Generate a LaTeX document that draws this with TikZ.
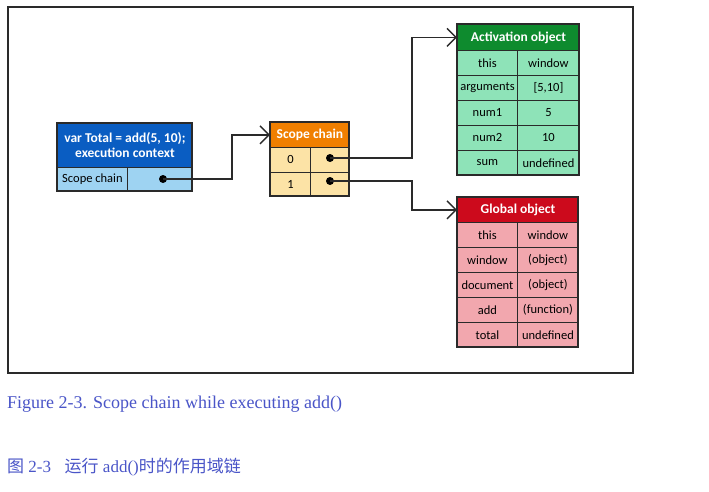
\documentclass[tikz,border=0pt]{standalone}
\usepackage{fontspec}
\setmainfont{Liberation Serif}
\newfontfamily\boxfont{Carlito}
\newfontfamily\cjk{Noto Sans CJK SC}
\usetikzlibrary{arrows.meta}
\definecolor{ecHead}{HTML}{0A5DC2}
\definecolor{ecRow}{HTML}{9ED3F2}
\definecolor{scHead}{HTML}{F07F00}
\definecolor{scRow}{HTML}{FCE3A6}
\definecolor{acHead}{HTML}{0E8B2E}
\definecolor{acRow}{HTML}{8EE3B8}
\definecolor{glHead}{HTML}{CC0A1C}
\definecolor{glRow}{HTML}{F2A7AE}
\definecolor{capBlue}{HTML}{4A55C8}
\definecolor{lineDark}{HTML}{2A2A2A}
\begin{document}
\begin{tikzpicture}[x=1pt,y=-1pt,
  cell/.style={draw=lineDark, line width=0.9pt, anchor=north west, inner sep=0pt,
    minimum height=25pt, font=\boxfont\fontsize{12.5}{13}\selectfont, text=black},
  headcell/.style={cell, font=\boxfont\bfseries\fontsize{13.5}{15}\selectfont, text=white},
  outline/.style={draw=lineDark, line width=1.7pt},
  dot/.style={circle, fill=black, inner sep=0pt, minimum size=8pt},
  arr/.style={draw=lineDark, line width=1.4pt, -{Straight Barb[length=9pt,width=18pt,line width=1.4pt]}},
  caption/.style={anchor=base west, inner sep=0pt, text=capBlue}]
\useasboundingbox (0,0) rectangle (709,492);
\fill[white] (0,0) rectangle (709,492);
% frame
\draw[draw=lineDark, line width=1.2pt] (8,7) rectangle (633,373);

% execution context
\node[headcell, fill=ecHead, minimum width=135pt, minimum height=44pt, align=center] (echead) at (57,123) {var Total = add(5, 10);\\execution context};
\node[cell, fill=ecRow, minimum width=70pt, minimum height=24pt] (ecl) at (57,167) {Scope chain};
\node[cell, fill=ecRow, minimum width=65pt, minimum height=24pt] (ecr) at (127,167) {};
\draw[outline] (57,123) rectangle (192,191);
\node[dot] (ecdot) at (163,179) {};

% scope chain
\node[headcell, fill=scHead, minimum width=79pt] (schead) at (270,122) {Scope chain};
\node[cell, fill=scRow, minimum width=40pt] (sc0l) at (270,147) {0};
\node[cell, fill=scRow, minimum width=39pt] (sc0r) at (310,147) {};
\node[cell, fill=scRow, minimum width=40pt, minimum height=24pt] (sc1l) at (270,172) {1};
\node[cell, fill=scRow, minimum width=39pt, minimum height=24pt] (sc1r) at (310,172) {};
\draw[outline] (270,122) rectangle (349,196);
\node[dot] (scdot0) at (330,158) {};
\node[dot] (scdot1) at (330,181) {};

% activation object
\node[headcell, fill=acHead, minimum width=122pt, minimum height=26pt] (achead) at (457,24) {Activation object};
\node[cell, fill=acRow, minimum width=60pt] (ac1l) at (457,50) {this};
\node[cell, fill=acRow, minimum width=62pt] (ac1r) at (517,50) {window};
\node[cell, fill=acRow, minimum width=60pt] (ac2l) at (457,75) {arguments};
\node[cell, fill=acRow, minimum width=62pt] (ac2r) at (517,75) {[5,10]};
\node[cell, fill=acRow, minimum width=60pt] (ac3l) at (457,100) {num1};
\node[cell, fill=acRow, minimum width=62pt] (ac3r) at (517,100) {5};
\node[cell, fill=acRow, minimum width=60pt] (ac4l) at (457,125) {num2};
\node[cell, fill=acRow, minimum width=62pt] (ac4r) at (517,125) {10};
\node[cell, fill=acRow, minimum width=60pt] (ac5l) at (457,150) {sum};
\node[cell, fill=acRow, minimum width=62pt] (ac5r) at (517,150) {undefined};
\draw[outline] (457,24) rectangle (579,175);

% global object
\node[headcell, fill=glHead, minimum width=121pt] (glhead) at (457,197) {Global object};
\node[cell, fill=glRow, minimum width=60pt] (gl1l) at (457,222) {this};
\node[cell, fill=glRow, minimum width=61pt] (gl1r) at (517,222) {window};
\node[cell, fill=glRow, minimum width=60pt] (gl2l) at (457,247) {window};
\node[cell, fill=glRow, minimum width=61pt] (gl2r) at (517,247) {(object)};
\node[cell, fill=glRow, minimum width=60pt] (gl3l) at (457,272) {document};
\node[cell, fill=glRow, minimum width=61pt] (gl3r) at (517,272) {(object)};
\node[cell, fill=glRow, minimum width=60pt] (gl4l) at (457,297) {add};
\node[cell, fill=glRow, minimum width=61pt] (gl4r) at (517,297) {(function)};
\node[cell, fill=glRow, minimum width=60pt] (gl5l) at (457,322) {total};
\node[cell, fill=glRow, minimum width=61pt] (gl5r) at (517,322) {undefined};
\draw[outline] (457,197) rectangle (578,347);

% connectors
\coordinate (b1) at (232,179);
\coordinate (b2) at (412,158);
\coordinate (b3) at (412,181);
\draw[arr] (ecdot.center) -- (b1) |- (schead.west);
\draw[arr] (scdot0.center) -- (b2) |- (achead.west);
\draw[arr] (scdot1.center) -- (b3) |- (glhead.west);

% captions
\node[caption, font=\fontsize{18}{20}\selectfont] (cap1) at (7,408) {Figure 2-3. Scope chain while executing add()};
\node[caption, font=\fontsize{17}{20}\selectfont] (cap2) at (7,472) {{\cjk 图} 2-3\hspace{0.8em}{\cjk 运行} add(){\cjk 时的作用域链}};
\end{tikzpicture}
\end{document}
